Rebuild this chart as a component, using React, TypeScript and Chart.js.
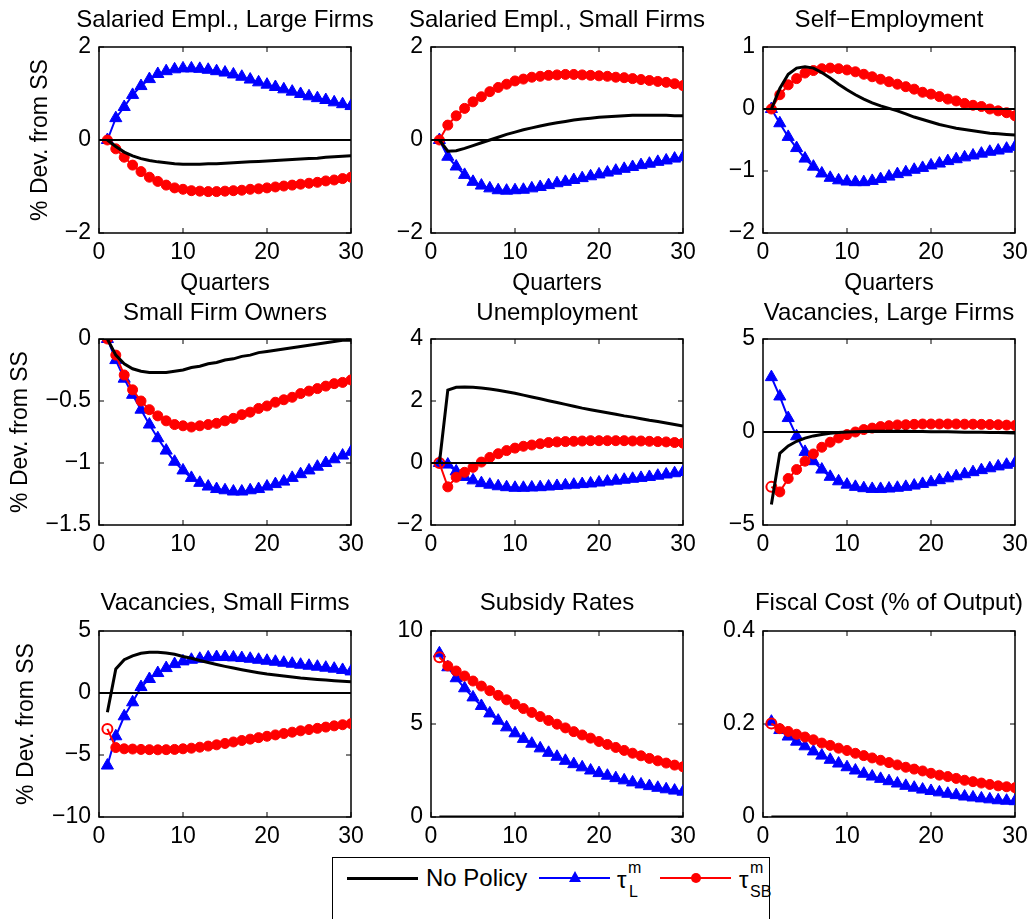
import { useEffect, useRef } from "react";
import { Chart, registerables } from "chart.js";

Chart.register(...registerables);

// Horizon in quarters
const quarters = [1, 2, 3, 4, 5, 6, 7, 8, 9, 10, 11, 12, 13, 14, 15, 16, 17, 18, 19, 20, 21, 22, 23, 24, 25, 26, 27, 28, 29, 30];
const xTicks = [0, 10, 20, 30];

// Salaried employment, large firms
const salLargeNone = [0, -0.14, -0.26, -0.34, -0.40, -0.44, -0.47, -0.49, -0.51, -0.52, -0.52, -0.52, -0.51, -0.51, -0.50, -0.49, -0.48, -0.47, -0.46, -0.45, -0.44, -0.43, -0.42, -0.41, -0.40, -0.39, -0.37, -0.36, -0.35, -0.34];
const salLargeTauL = [0, 0.47, 0.71, 0.97, 1.16, 1.31, 1.42, 1.48, 1.52, 1.54, 1.54, 1.53, 1.51, 1.48, 1.45, 1.41, 1.36, 1.30, 1.24, 1.19, 1.14, 1.09, 1.04, 0.99, 0.94, 0.90, 0.86, 0.81, 0.77, 0.73];
const salLargeTauSB = [0, -0.19, -0.37, -0.54, -0.68, -0.80, -0.89, -0.97, -1.03, -1.06, -1.09, -1.10, -1.11, -1.11, -1.10, -1.09, -1.08, -1.06, -1.05, -1.03, -1.01, -0.99, -0.97, -0.95, -0.93, -0.91, -0.88, -0.86, -0.83, -0.80];

// Salaried employment, small firms
const salSmallNone = [0, -0.24, -0.23, -0.18, -0.12, -0.06, 0.0, 0.06, 0.12, 0.17, 0.22, 0.26, 0.30, 0.34, 0.37, 0.40, 0.43, 0.45, 0.47, 0.49, 0.50, 0.51, 0.52, 0.53, 0.53, 0.53, 0.53, 0.53, 0.52, 0.52];
const salSmallTauL = [0, -0.36, -0.57, -0.75, -0.90, -0.98, -1.04, -1.08, -1.09, -1.08, -1.07, -1.04, -1.01, -0.97, -0.93, -0.90, -0.86, -0.82, -0.78, -0.74, -0.70, -0.66, -0.62, -0.58, -0.54, -0.51, -0.47, -0.44, -0.40, -0.37];
const salSmallTauSB = [0, 0.32, 0.52, 0.68, 0.82, 0.93, 1.04, 1.13, 1.20, 1.27, 1.31, 1.35, 1.37, 1.39, 1.40, 1.41, 1.41, 1.40, 1.39, 1.38, 1.37, 1.35, 1.34, 1.32, 1.30, 1.28, 1.26, 1.24, 1.21, 1.17];

// Self-employment
const selfEmpNone = [0, 0.33, 0.56, 0.66, 0.68, 0.66, 0.59, 0.50, 0.40, 0.31, 0.23, 0.16, 0.10, 0.05, 0.01, -0.03, -0.08, -0.13, -0.17, -0.21, -0.25, -0.28, -0.31, -0.33, -0.35, -0.37, -0.39, -0.40, -0.41, -0.42];
const selfEmpTauL = [0, -0.23, -0.45, -0.63, -0.80, -0.93, -1.04, -1.11, -1.15, -1.17, -1.18, -1.18, -1.16, -1.13, -1.09, -1.05, -1.02, -0.98, -0.95, -0.91, -0.88, -0.84, -0.81, -0.78, -0.75, -0.72, -0.69, -0.67, -0.64, -0.61];
const selfEmpTauSB = [0, 0.23, 0.39, 0.49, 0.58, 0.62, 0.65, 0.66, 0.65, 0.63, 0.60, 0.56, 0.52, 0.48, 0.44, 0.40, 0.36, 0.32, 0.27, 0.24, 0.20, 0.16, 0.13, 0.09, 0.06, 0.04, 0.0, -0.03, -0.06, -0.11];

// Small firm owners
const ownersNone = [0, -0.13, -0.20, -0.24, -0.26, -0.27, -0.27, -0.27, -0.26, -0.25, -0.23, -0.22, -0.20, -0.19, -0.17, -0.16, -0.14, -0.13, -0.11, -0.10, -0.09, -0.08, -0.07, -0.06, -0.05, -0.04, -0.03, -0.02, -0.01, -0.01];
const ownersTauL = [0, -0.17, -0.32, -0.45, -0.57, -0.69, -0.80, -0.90, -0.99, -1.06, -1.12, -1.16, -1.19, -1.21, -1.22, -1.23, -1.23, -1.22, -1.21, -1.19, -1.17, -1.15, -1.12, -1.09, -1.06, -1.03, -1.00, -0.97, -0.94, -0.91];
const ownersTauSB = [0, -0.13, -0.29, -0.41, -0.50, -0.57, -0.62, -0.66, -0.69, -0.70, -0.71, -0.70, -0.69, -0.68, -0.66, -0.64, -0.61, -0.59, -0.56, -0.54, -0.51, -0.49, -0.47, -0.44, -0.42, -0.40, -0.38, -0.36, -0.35, -0.33];

// Unemployment
const unempNone = [0, 2.35, 2.44, 2.45, 2.44, 2.42, 2.39, 2.35, 2.30, 2.25, 2.19, 2.13, 2.07, 2.01, 1.95, 1.89, 1.83, 1.77, 1.72, 1.67, 1.62, 1.57, 1.52, 1.48, 1.43, 1.38, 1.34, 1.29, 1.24, 1.19];
const unempTauL = [0, -0.05, -0.27, -0.45, -0.56, -0.65, -0.70, -0.75, -0.78, -0.80, -0.80, -0.79, -0.78, -0.76, -0.74, -0.72, -0.70, -0.68, -0.66, -0.63, -0.60, -0.57, -0.54, -0.51, -0.48, -0.45, -0.41, -0.37, -0.33, -0.29];
const unempTauSB = [0, -0.77, -0.46, -0.30, -0.14, 0.03, 0.18, 0.30, 0.40, 0.48, 0.54, 0.58, 0.62, 0.66, 0.68, 0.69, 0.70, 0.71, 0.72, 0.72, 0.72, 0.72, 0.72, 0.71, 0.71, 0.70, 0.69, 0.68, 0.66, 0.64];

// Vacancies, large firms
const vacLargeNone = [-3.9, -1.15, -0.75, -0.50, -0.33, -0.21, -0.13, -0.07, -0.03, 0.0, 0.02, 0.03, 0.04, 0.04, 0.04, 0.04, 0.04, 0.03, 0.03, 0.02, 0.02, 0.01, 0.0, -0.01, -0.01, -0.02, -0.03, -0.03, -0.04, -0.05];
const vacLargeTauL = [2.95, 1.91, 0.75, -0.23, -1.07, -1.57, -2.02, -2.41, -2.65, -2.83, -2.95, -3.02, -3.06, -3.06, -3.04, -3.00, -2.95, -2.88, -2.79, -2.70, -2.59, -2.49, -2.38, -2.27, -2.16, -2.05, -1.95, -1.85, -1.76, -1.67];
const vacLargeTauSB = [-2.95, -3.22, -2.50, -2.02, -1.57, -1.18, -0.82, -0.55, -0.32, -0.14, 0.0, 0.13, 0.21, 0.29, 0.34, 0.38, 0.39, 0.41, 0.43, 0.43, 0.43, 0.43, 0.43, 0.42, 0.42, 0.41, 0.40, 0.39, 0.37, 0.35];

// Vacancies, small firms
const vacSmallNone = [-1.55, 1.93, 2.68, 3.0, 3.2, 3.28, 3.28, 3.22, 3.12, 2.95, 2.80, 2.62, 2.46, 2.30, 2.15, 2.01, 1.88, 1.76, 1.64, 1.53, 1.45, 1.37, 1.29, 1.21, 1.15, 1.09, 1.04, 0.99, 0.95, 0.91];
const vacSmallTauL = [-5.85, -3.49, -1.88, -0.75, 0.48, 1.13, 1.61, 2.01, 2.33, 2.55, 2.68, 2.76, 2.87, 2.90, 2.90, 2.87, 2.82, 2.76, 2.68, 2.60, 2.52, 2.44, 2.36, 2.28, 2.20, 2.12, 2.04, 1.96, 1.86, 1.74];
const vacSmallTauSB = [-2.9, -4.4, -4.5, -4.52, -4.55, -4.57, -4.58, -4.57, -4.55, -4.50, -4.45, -4.37, -4.28, -4.18, -4.07, -3.95, -3.83, -3.72, -3.60, -3.49, -3.38, -3.27, -3.16, -3.05, -2.95, -2.85, -2.75, -2.65, -2.56, -2.47];

// Subsidy rates
const subsidyNone = [0, 0, 0, 0, 0, 0, 0, 0, 0, 0, 0, 0, 0, 0, 0, 0, 0, 0, 0, 0, 0, 0, 0, 0, 0, 0, 0, 0, 0, 0];
const subsidyTauL = [8.80, 8.05, 7.46, 6.92, 6.43, 5.97, 5.57, 5.18, 4.82, 4.50, 4.20, 3.94, 3.69, 3.45, 3.24, 3.02, 2.84, 2.67, 2.50, 2.36, 2.22, 2.09, 1.97, 1.86, 1.75, 1.66, 1.57, 1.49, 1.42, 1.36];
const subsidyTauSB = [8.59, 8.12, 7.85, 7.58, 7.31, 7.04, 6.79, 6.54, 6.30, 6.06, 5.83, 5.62, 5.40, 5.19, 4.99, 4.79, 4.59, 4.41, 4.24, 4.06, 3.90, 3.74, 3.58, 3.43, 3.29, 3.15, 3.02, 2.90, 2.79, 2.70];

// Fiscal cost, % of output
const fiscalNone = [0, 0, 0, 0, 0, 0, 0, 0, 0, 0, 0, 0, 0, 0, 0, 0, 0, 0, 0, 0, 0, 0, 0, 0, 0, 0, 0, 0, 0, 0];
const fiscalTauL = [0.205, 0.187, 0.173, 0.162, 0.152, 0.141, 0.132, 0.123, 0.115, 0.107, 0.100, 0.093, 0.087, 0.082, 0.077, 0.072, 0.067, 0.063, 0.059, 0.056, 0.053, 0.050, 0.047, 0.044, 0.042, 0.040, 0.038, 0.036, 0.035, 0.034];
const fiscalTauSB = [0.201, 0.190, 0.184, 0.178, 0.172, 0.166, 0.159, 0.154, 0.148, 0.143, 0.137, 0.132, 0.127, 0.122, 0.117, 0.112, 0.107, 0.103, 0.099, 0.094, 0.090, 0.087, 0.083, 0.079, 0.076, 0.073, 0.070, 0.067, 0.065, 0.063];

const FONT_FAMILY = "'Liberation Sans', Arial, Helvetica, sans-serif";
const FONT_SIZE = 23;
const TITLE_SIZE = 24;
const LINE_H = FONT_SIZE * 1.2;
const HALF = LINE_H / 2;

// Page geometry of the 3x3 grid of plot areas
const COL_LEFT = [99, 431, 763];
const ROW_TOP = [47, 339, 631];
const PLOT_W = 252;
const PLOT_H = 186;
const TITLE_MID = [20, 313, 603];
const YLABEL_MID = [41, 21, 27];
const XLABEL_MID = 284;
const PAD_R = 24;

type Panel = {
  title: string;
  none: number[];
  tauL: number[];
  tauSB: number[];
  yMin: number;
  yMax: number;
  yStep: number;
  row: number;
  col: number;
  zeroLine: boolean;
  hollowFirst: boolean;
};

const panels: Panel[] = [
  { title: "Salaried Empl., Large Firms", none: salLargeNone, tauL: salLargeTauL, tauSB: salLargeTauSB, yMin: -2, yMax: 2, yStep: 2, row: 0, col: 0, zeroLine: true, hollowFirst: false },
  { title: "Salaried Empl., Small Firms", none: salSmallNone, tauL: salSmallTauL, tauSB: salSmallTauSB, yMin: -2, yMax: 2, yStep: 2, row: 0, col: 1, zeroLine: true, hollowFirst: false },
  { title: "Self\u2212Employment", none: selfEmpNone, tauL: selfEmpTauL, tauSB: selfEmpTauSB, yMin: -2, yMax: 1, yStep: 1, row: 0, col: 2, zeroLine: true, hollowFirst: false },
  { title: "Small Firm Owners", none: ownersNone, tauL: ownersTauL, tauSB: ownersTauSB, yMin: -1.5, yMax: 0, yStep: 0.5, row: 1, col: 0, zeroLine: true, hollowFirst: false },
  { title: "Unemployment", none: unempNone, tauL: unempTauL, tauSB: unempTauSB, yMin: -2, yMax: 4, yStep: 2, row: 1, col: 1, zeroLine: true, hollowFirst: true },
  { title: "Vacancies, Large Firms", none: vacLargeNone, tauL: vacLargeTauL, tauSB: vacLargeTauSB, yMin: -5, yMax: 5, yStep: 5, row: 1, col: 2, zeroLine: true, hollowFirst: true },
  { title: "Vacancies, Small Firms", none: vacSmallNone, tauL: vacSmallTauL, tauSB: vacSmallTauSB, yMin: -10, yMax: 5, yStep: 5, row: 2, col: 0, zeroLine: true, hollowFirst: true },
  { title: "Subsidy Rates", none: subsidyNone, tauL: subsidyTauL, tauSB: subsidyTauSB, yMin: 0, yMax: 10, yStep: 5, row: 2, col: 1, zeroLine: false, hollowFirst: true },
  { title: "Fiscal Cost (% of Output)", none: fiscalNone, tauL: fiscalTauL, tauSB: fiscalTauSB, yMin: 0, yMax: 0.4, yStep: 0.2, row: 2, col: 2, zeroLine: false, hollowFirst: true },
];

const fmtTick = (v: number | string) => {
  const n = typeof v === "number" ? Math.round(v * 1000) / 1000 : Number(v);
  return String(n).replace("-", "\u2212");
};

// Axes box with inward tick marks on all four sides
const boxPlugin = {
  id: "matlabBox",
  beforeDatasetsDraw(chart: any) {
    const { ctx, chartArea: a, scales } = chart;
    ctx.save();
    ctx.strokeStyle = "#000";
    ctx.lineWidth = 1.5;
    ctx.strokeRect(a.left, a.top, a.right - a.left, a.bottom - a.top);
    ctx.lineWidth = 1;
    const tl = 5;
    for (const t of scales.x.ticks) {
      const px = scales.x.getPixelForValue(t.value);
      ctx.beginPath();
      ctx.moveTo(px, a.bottom);
      ctx.lineTo(px, a.bottom - tl);
      ctx.moveTo(px, a.top);
      ctx.lineTo(px, a.top + tl);
      ctx.stroke();
    }
    for (const t of scales.y.ticks) {
      const py = scales.y.getPixelForValue(t.value);
      ctx.beginPath();
      ctx.moveTo(a.left, py);
      ctx.lineTo(a.left + tl, py);
      ctx.moveTo(a.right, py);
      ctx.lineTo(a.right - tl, py);
      ctx.stroke();
    }
    ctx.restore();
  },
};

// Panel title centred over the plot area
const panelTitlePlugin = {
  id: "panelTitle",
  afterDraw(chart: any, _args: any, opts: any) {
    const { ctx, chartArea: a } = chart;
    ctx.save();
    ctx.fillStyle = "#000";
    ctx.font = `normal ${TITLE_SIZE}px ${FONT_FAMILY}`;
    ctx.textAlign = "center";
    ctx.textBaseline = "middle";
    ctx.fillText(opts.text, (a.left + a.right) / 2, opts.y);
    ctx.restore();
  },
};

function geometry(row: number, col: number) {
  const left = col === 0 ? 0 : COL_LEFT[col] - 80;
  const padL = COL_LEFT[col] - left;
  const top = Math.round(TITLE_MID[row] - 18);
  const padT = ROW_TOP[row] - top;
  const titleY = TITLE_MID[row] - top;
  const padB = row === 0 ? 66 : 40;
  const width = padL + PLOT_W + PAD_R;
  const height = padT + PLOT_H + padB;
  const xTitleBottom = ROW_TOP[row] + PLOT_H + padB - HALF - XLABEL_MID;
  const yTitleTop = YLABEL_MID[row] - HALF;
  return { left, top, width, height, padL, padT, padB, titleY, xTitleBottom, yTitleTop };
}

const pts = (ys: number[]) => ys.map((y, i) => ({ x: quarters[i], y }));

function PanelChart({ p }: { p: Panel }) {
  const ref = useRef<HTMLCanvasElement>(null);
  const g = geometry(p.row, p.col);

  useEffect(() => {
    const font = { family: FONT_FAMILY, size: FONT_SIZE, weight: "normal" as const };
    const datasets: any[] = [];
    if (p.zeroLine) {
      datasets.push({
        label: "zero",
        data: [{ x: 0, y: 0 }, { x: 30, y: 0 }],
        borderColor: "#000",
        borderWidth: 2,
        pointRadius: 0,
        order: 0,
      });
    }
    datasets.push(
      {
        label: "No Policy",
        data: pts(p.none),
        borderColor: "#000",
        borderWidth: 3,
        pointRadius: 0,
        order: 1,
      },
      {
        label: "\u03c4SB",
        data: pts(p.tauSB),
        borderColor: "#ff0000",
        borderWidth: 2,
        pointStyle: "circle",
        pointRadius: 5,
        pointBorderWidth: p.tauSB.map((_, i) => (p.hollowFirst && i === 0 ? 2 : 1)),
        pointBorderColor: "#ff0000",
        pointBackgroundColor: p.tauSB.map((_, i) => (p.hollowFirst && i === 0 ? "rgba(255,255,255,0)" : "#ff0000")),
        order: 2,
      },
      {
        label: "\u03c4L",
        data: pts(p.tauL),
        borderColor: "#0000ff",
        borderWidth: 2,
        pointStyle: "triangle",
        pointRadius: 7,
        pointBorderWidth: 1,
        pointBorderColor: "#0000ff",
        pointBackgroundColor: "#0000ff",
        order: 3,
      }
    );

    const chart = new Chart(ref.current as HTMLCanvasElement, {
      type: "line",
      data: { datasets },
      plugins: [boxPlugin, panelTitlePlugin],
      options: {
        animation: false,
        responsive: false,
        devicePixelRatio: 1,
        layout: { padding: { left: 0, top: g.padT, right: PAD_R, bottom: 0 } },
        elements: { line: { tension: 0 } },
        plugins: {
          legend: { display: false },
          tooltip: { enabled: false },
          title: { display: false },
          panelTitle: { text: p.title, y: g.titleY },
        },
        scales: {
          x: {
            type: "linear",
            min: 0,
            max: 30,
            afterBuildTicks: (s: any) => {
              s.ticks = xTicks.map((v) => ({ value: v }));
            },
            afterFit: (s: any) => {
              s.height = g.padB;
            },
            grid: { display: false, drawTicks: false },
            border: { display: false },
            ticks: { color: "#000", font, padding: 6, maxRotation: 0, callback: fmtTick },
            title: {
              display: p.row === 0,
              text: "Quarters",
              color: "#000",
              font,
              padding: { top: 0, bottom: g.xTitleBottom },
            },
          },
          y: {
            type: "linear",
            min: p.yMin,
            max: p.yMax,
            afterFit: (s: any) => {
              s.width = g.padL;
            },
            grid: { display: false, drawTicks: false },
            border: { display: false },
            ticks: { color: "#000", font, padding: 8, stepSize: p.yStep, callback: fmtTick },
            title: {
              display: p.col === 0,
              text: "% Dev. from SS",
              color: "#000",
              font,
              padding: { top: g.yTitleTop, bottom: 0 },
            },
          },
        },
      } as any,
    });
    return () => chart.destroy();
  }, []);

  return (
    <canvas
      ref={ref}
      width={g.width}
      height={g.height}
      style={{ position: "absolute", left: g.left, top: g.top, width: g.width, height: g.height }}
    />
  );
}

function Legend() {
  const text: React.CSSProperties = {
    position: "absolute",
    fontFamily: FONT_FAMILY,
    fontSize: 24,
    lineHeight: "24px",
    color: "#000",
    whiteSpace: "nowrap",
  };
  const small: React.CSSProperties = { ...text, fontSize: 16, lineHeight: "16px" };
  const line = (left: number, color: string, h: number) => (
    <div style={{ position: "absolute", left, top: 878 - h / 2, width: 71, height: h, background: color }} />
  );
  return (
    <div>
      <div
        style={{
          position: "absolute",
          left: 332,
          top: 857,
          width: 438,
          height: 90,
          border: "1.5px solid #000",
          background: "#fff",
          boxSizing: "border-box",
        }}
      />
      {line(347, "#000", 3)}
      <div style={{ ...text, left: 426, top: 866 }}>No Policy</div>
      {line(539, "#0000ff", 2.5)}
      <div
        style={{
          position: "absolute",
          left: 575 - 6,
          top: 878 - 7,
          width: 0,
          height: 0,
          borderLeft: "6px solid transparent",
          borderRight: "6px solid transparent",
          borderBottom: "11px solid #0000ff",
        }}
      />
      <div style={{ ...text, left: 617, top: 868 }}>{"\u03c4"}</div>
      <div style={{ ...small, left: 628, top: 860 }}>m</div>
      <div style={{ ...small, left: 629, top: 884 }}>L</div>
      {line(660, "#ff0000", 2.5)}
      <div
        style={{
          position: "absolute",
          left: 696 - 5,
          top: 878 - 5,
          width: 10,
          height: 10,
          borderRadius: "50%",
          background: "#ff0000",
        }}
      />
      <div style={{ ...text, left: 739, top: 868 }}>{"\u03c4"}</div>
      <div style={{ ...small, left: 750, top: 860 }}>m</div>
      <div style={{ ...small, left: 750, top: 884 }}>SB</div>
    </div>
  );
}

export default function App() {
  return (
    <div
      style={{
        position: "absolute",
        left: 0,
        top: 0,
        width: 1034,
        height: 919,
        overflow: "hidden",
        background: "#fff",
      }}
    >
      {panels.map((p) => (
        <PanelChart key={p.title} p={p} />
      ))}
      <Legend />
    </div>
  );
}
